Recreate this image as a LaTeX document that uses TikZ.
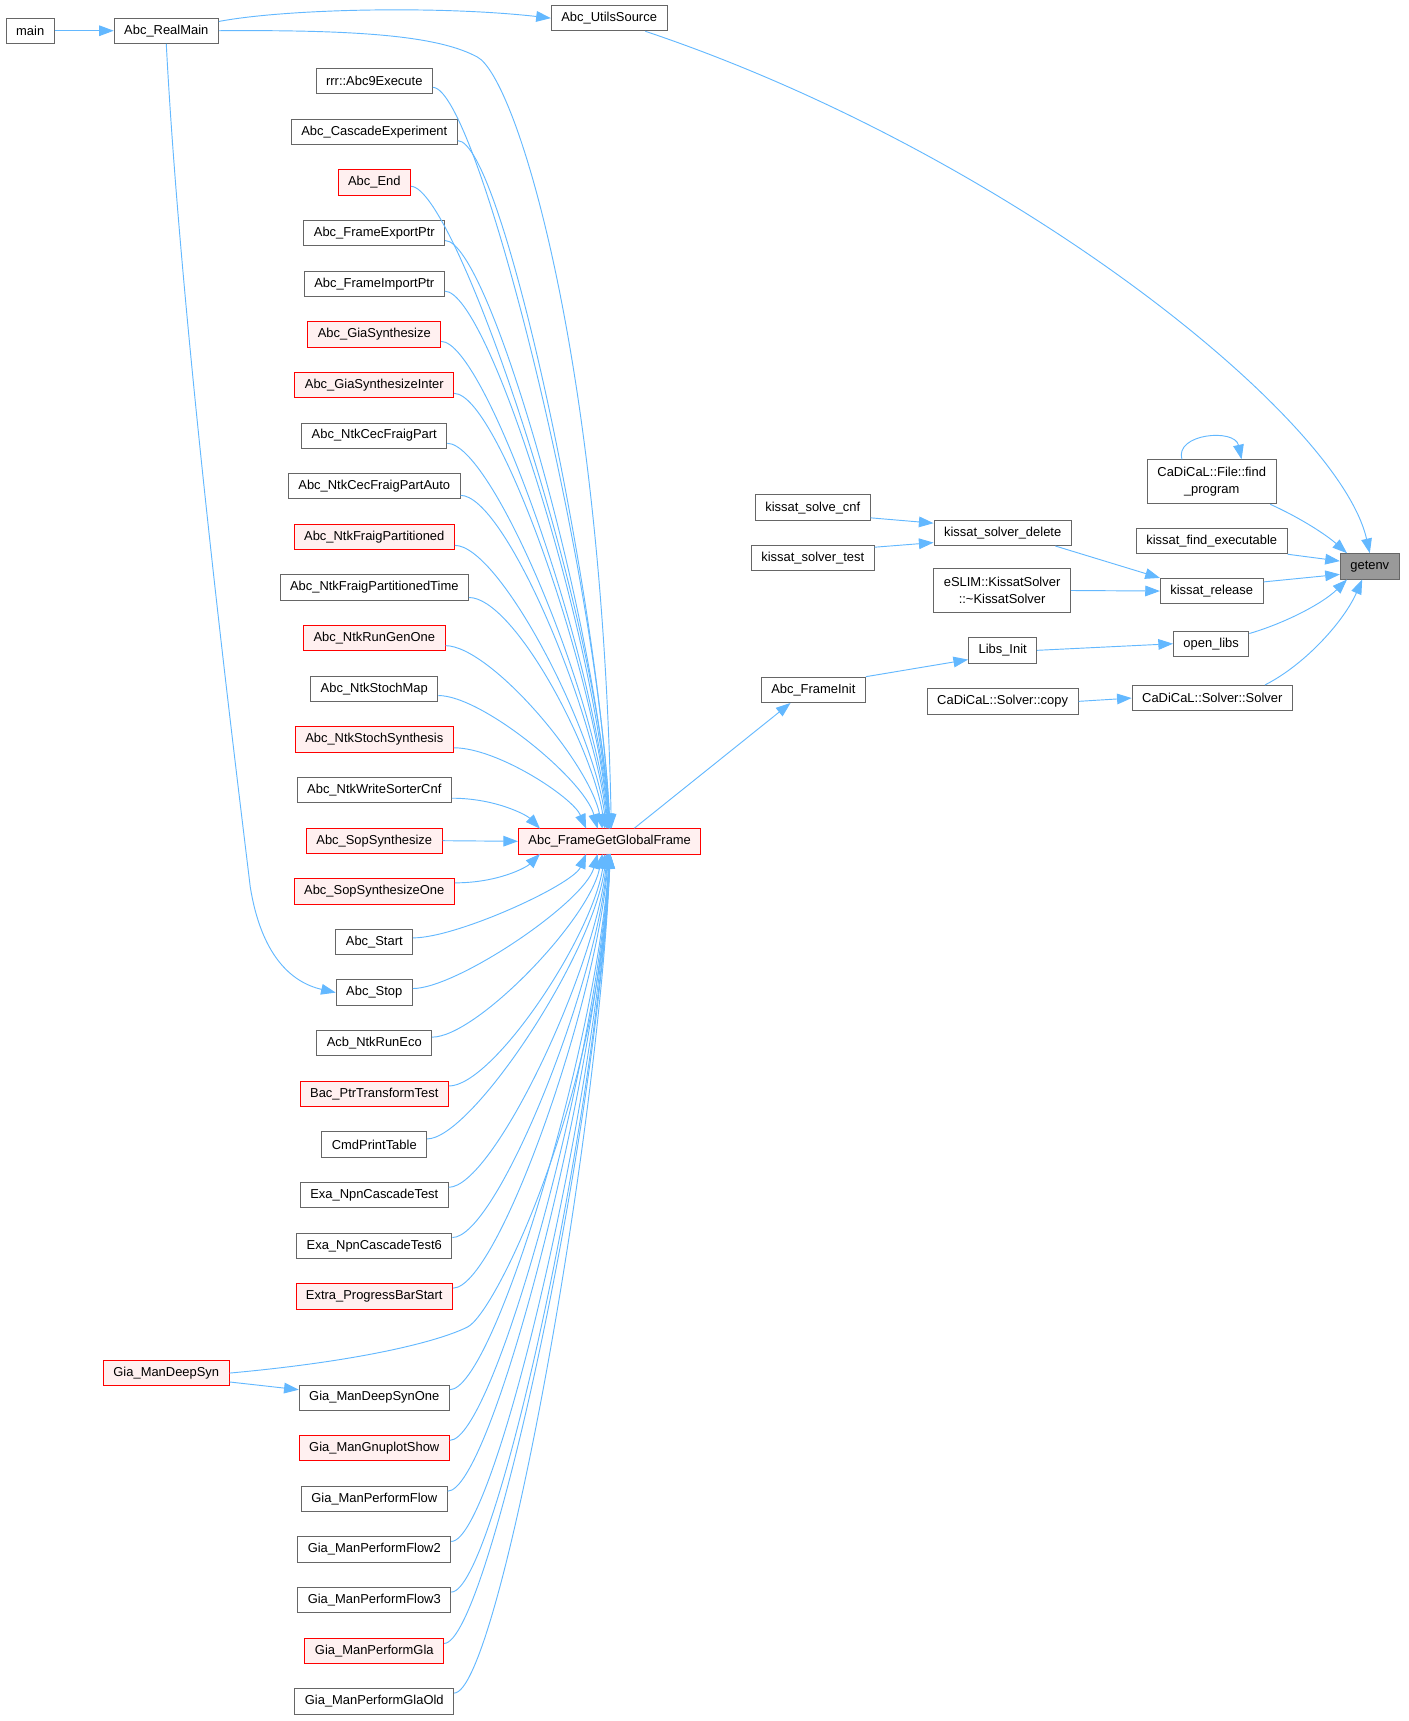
\documentclass[tikz,border=0pt]{standalone}
\usepackage{fontspec}
\setmainfont{Liberation Sans}
\usetikzlibrary{arrows.meta}
\definecolor{dxBlue}{HTML}{63B8FF}
\definecolor{dxGrey}{HTML}{666666}
\definecolor{dxRed}{HTML}{FF0000}
\definecolor{dxPink}{HTML}{FFF0F0}
\definecolor{dxRoot}{HTML}{999999}
\newcommand{\dxfont}{\fontsize{9.7}{12.5}\selectfont}
\tikzset{
  fn/.style     ={draw=dxGrey,fill=white,line width=0.7pt,font=\dxfont,
                  inner xsep=7.5pt,inner ysep=3pt,minimum height=19pt},
  fnred/.style  ={fn,draw=dxRed,fill=dxPink},
  fnroot/.style ={fn,fill=dxRoot},
  fntwo/.style  ={fn,minimum height=33pt,align=center},
  call/.style   ={-{Stealth[length=11pt,width=8pt,inset=0pt]},dxBlue,line width=0.7pt},
}

\begin{document}
\begin{tikzpicture}[x=0.823pt,y=-0.823pt]
\useasboundingbox (0,0) rectangle (1283,1568);

%% entry points and the hub
\node[fn] (main) at (27.5,28) {main};
\node[fn] (realmain) at (151.5,28) {Abc\_RealMain};
\node[fn] (utils) at (555,16.5) {Abc\_UtilsSource};
\node[fnred] (deepsyn) at (151.5,1251) {Gia\_ManDeepSyn};
\node[fnred] (ggf) at (555.5,766.5) {Abc\_FrameGetGlobalFrame};

%% callers of the global frame, one slot each
\foreach \i/\t/\s in {0/rrr::Abc9Execute/fn, 1/Abc\_CascadeExperiment/fn, 2/Abc\_End/fnred,
    3/Abc\_FrameExportPtr/fn, 4/Abc\_FrameImportPtr/fn, 5/Abc\_GiaSynthesize/fnred,
    6/Abc\_GiaSynthesizeInter/fnred, 7/Abc\_NtkCecFraigPart/fn, 8/Abc\_NtkCecFraigPartAuto/fn,
    9/Abc\_NtkFraigPartitioned/fnred, 10/Abc\_NtkFraigPartitionedTime/fn,
    11/Abc\_NtkRunGenOne/fnred, 12/Abc\_NtkStochMap/fn, 13/Abc\_NtkStochSynthesis/fnred,
    14/Abc\_NtkWriteSorterCnf/fn, 15/Abc\_SopSynthesize/fnred, 16/Abc\_SopSynthesizeOne/fnred,
    17/Abc\_Start/fn, 18/Abc\_Stop/fn, 19/Acb\_NtkRunEco/fn, 20/Bac\_PtrTransformTest/fnred,
    21/CmdPrintTable/fn, 22/Exa\_NpnCascadeTest/fn, 23/Exa\_NpnCascadeTest6/fn,
    24/Extra\_ProgressBarStart/fnred, 26/Gia\_ManDeepSynOne/fn, 27/Gia\_ManGnuplotShow/fnred,
    28/Gia\_ManPerformFlow/fn, 29/Gia\_ManPerformFlow2/fn, 30/Gia\_ManPerformFlow3/fn,
    31/Gia\_ManPerformGla/fnred, 32/Gia\_ManPerformGlaOld/fn}
  \node[\s] (L\i) at (341,{74+46.13*\i}) {\t};

%% right part
\node[fn] (frameinit) at (741,628.5) {Abc\_FrameInit};
\node[fn] (libsinit) at (913.5,592.5) {Libs\_Init};
\node[fn] (solvecnf) at (740.5,462.5) {kissat\_solve\_cnf};
\node[fn] (solvertest) at (740.5,508.5) {kissat\_solver\_test};
\node[fn] (solverdel) at (913.5,485.5) {kissat\_solver\_delete};
\node[fntwo] (eslim) at (913,538) {eSLIM::KissatSolver\\::\textasciitilde KissatSolver};
\node[fn] (copy) at (913.5,639) {CaDiCaL::Solver::copy};
\node[fn] (release) at (1104,538.5) {kissat\_release};
\node[fn] (openlibs) at (1103.5,586.5) {open\_libs};
\node[fn] (solver) at (1104.5,636) {CaDiCaL::Solver::Solver};
\node[fn] (findexe) at (1104,493) {kissat\_find\_executable};
\node[fntwo] (findprog) at (1104,439) {CaDiCaL::File::find\\\_program};
\node[fnroot] (getenv) at (1248,516) {getenv};

%% calls into the hub
\foreach \i in {0,...,14} {
  \pgfmathsetmacro\dist{15-\i}
  \pgfmathsetmacro\tipx{557-65/(\dist^1.5)}
  \pgfmathsetmacro\rise{0.35*(755-(74+46.13*\i))}
  \draw[call] (L\i.-6) .. controls +(40,0) and +(-12,-\rise) .. (\tipx,755);
}
\foreach \i in {16,...,24,26,27,...,32} {
  \pgfmathsetmacro\dist{\i-15}
  \pgfmathsetmacro\tipx{557-65/(\dist^1.5)}
  \pgfmathsetmacro\rise{0.35*((74+46.13*\i)-778)}
  \draw[call] (L\i.6) .. controls +(40,0) and +(-12,\rise) .. (\tipx,778);
}
\draw[call] (L15.east) -- (ggf.west);
\draw[call] (realmain.east) .. controls (330,27) and (400,33) .. (435,52)
  .. controls (470,71) and (548,320) .. (557,755);
\draw[call] (deepsyn.east) .. controls (330,1240) and (400,1222) .. (426,1209)
  .. controls (452,1196) and (545,1000) .. (556,778);

%% main chain
\draw[call] (main.east) -- (realmain.west);
\draw[call] (realmain.10) .. controls (260,8) and (400,5) .. (utils.west);
\draw[call] (realmain.south) .. controls (165,300) and (215,700) .. (228,808)
  .. controls (238,870) and (265,895) .. (L18.west);
\draw[call] (deepsyn.-8) -- (L26.174);
\draw[call] (utils.-20) .. controls (920,140) and (1220,380) .. (getenv.north);

%% towards getenv
\draw[call] (ggf.28) -- (frameinit.-150);
\draw[call] (frameinit.north east) -- (libsinit.-165);
\draw[call] (libsinit.east) -- (openlibs.west);
\draw[call] (solvecnf.-10) -- (solverdel.172);
\draw[call] (solvertest.10) -- (solverdel.-172);
\draw[call] (solverdel.-14) -- (release.north west);
\draw[call] (eslim.east) -- (release.west);
\draw[call] (copy.east) -- (solver.west);
\draw[call] (findprog.143) .. controls (1070,395) and (1125,390) .. (findprog.37);
\draw[call] (findprog.-21) .. controls (1185,472) and (1208,487) .. (getenv.150);
\draw[call] (findexe.south east) -- (getenv.170);
\draw[call] (release.10) -- (getenv.195);
\draw[call] (openlibs.15) .. controls (1170,568) and (1205,550) .. (getenv.-150);
\draw[call] (solver.14) .. controls (1190,605) and (1225,565) .. (getenv.-120);
\end{tikzpicture}
\end{document}
